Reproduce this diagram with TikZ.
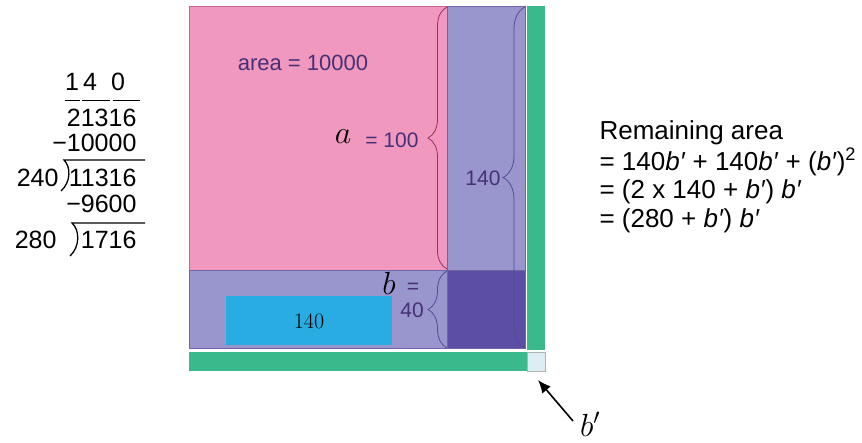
\RequirePackage{fix-cm}
\documentclass[tikz,border=0pt]{standalone}
\usepackage{fontspec}
\newfontfamily\arialf{Liberation Sans}
\usetikzlibrary{arrows.meta, decorations.pathreplacing, positioning}
\definecolor{PinkFill}{RGB}{240,152,190}
\definecolor{PinkEdge}{RGB}{200,100,145}
\definecolor{Lavender}{RGB}{152,150,204}
\definecolor{LavEdge}{RGB}{110,100,170}
\definecolor{DeepViolet}{RGB}{92,78,164}
\definecolor{MintGreen}{RGB}{58,186,140}
\definecolor{SkyBlue}{RGB}{41,172,226}
\definecolor{PaleCyan}{RGB}{220,238,244}
\definecolor{LabelPurple}{RGB}{70,48,120}
\definecolor{BracePink}{RGB}{150,50,95}
\definecolor{BracePurple}{RGB}{85,75,150}

\begin{document}
\begin{tikzpicture}[x=1pt, y=-1pt, font=\arialf\fontsize{22}{24}\selectfont]
	\useasboundingbox (0,0) rectangle (862,442);
	% long division
	\node[font=\arialf\fontsize{25}{28}\selectfont] (q1) at (72,82) {1};
	\node[font=\arialf\fontsize{25}{28}\selectfont] (q2) at (90,82) {4};
	\node[font=\arialf\fontsize{25}{28}\selectfont] (q3) at (118,82) {0};
	\draw[line width=1pt] (65,100) -- (80,100) (82,100) -- (110,100) (113,100) -- (140,100);
	\node[anchor=east, font=\arialf\fontsize{25}{28}\selectfont] (r1) at (140,118) {21316};
	\node[anchor=east, font=\arialf\fontsize{25}{28}\selectfont] (r2) at (140,143) {−10000};
	\node[anchor=east, font=\arialf\fontsize{25}{28}\selectfont] (r3) at (140,178) {11316};
	\node[anchor=east, font=\arialf\fontsize{25}{28}\selectfont] (d1) at (62,178) {240};
	\node[anchor=east, font=\arialf\fontsize{25}{28}\selectfont] (r4) at (140,204) {−9600};
	\node[anchor=east, font=\arialf\fontsize{25}{28}\selectfont] (r5) at (140,240) {1716};
	\node[anchor=east, font=\arialf\fontsize{25}{28}\selectfont] (d2) at (60,240) {280};
	\draw[line width=1.3pt] (145,160) -- (64,160) .. controls (71,167) and (71,182) .. (61,191);
	\draw[line width=1.3pt] (145,223) -- (72,223) .. controls (80,230) and (80,247) .. (70,256);
	% square pieces
	\fill[PinkFill, draw=PinkEdge, line width=0.6pt] (189,6) rectangle (447,270);
	\fill[Lavender, draw=LavEdge, line width=0.6pt] (447,6) rectangle (525,270);
	\fill[Lavender, draw=LavEdge, line width=0.6pt] (189,270) rectangle (447,348);
	\fill[DeepViolet, draw=LavEdge, line width=0.6pt] (447,270) rectangle (525,348);
	\fill[MintGreen] (527,6) rectangle (545,350);
	\fill[MintGreen] (189,352) rectangle (527,371);
	\fill[PaleCyan, draw=gray!60, line width=0.5pt] (527,352) rectangle (545,371);
	\fill[SkyBlue] (226,296) rectangle (392,345);
	% braces
	\draw[BracePink, line width=0.8pt, decorate, decoration={brace, amplitude=19pt}] (447,269) -- (447,7);
	\draw[BracePurple, line width=0.8pt, decorate, decoration={brace, amplitude=22pt}] (525,348) -- (525,7);
	\draw[BracePurple, line width=0.8pt, decorate, decoration={brace, amplitude=19pt}] (447,348) -- (447,271);
	% labels
	\node[text=LabelPurple] (area) at (303,63) {area = 10000};
	\node[font=\fontsize{32}{34}\selectfont] (avar) at (343,137) {$a$};
	\node[text=LabelPurple, anchor=east, font=\arialf\fontsize{21}{24}\selectfont] (aval) at (422,140) {= 100};
	\node[text=LabelPurple, font=\arialf\fontsize{21}{24}\selectfont] (col) at (483,178) {140};
	\node[font=\fontsize{32}{34}\selectfont] (bvar) at (389,283) {$b$};
	\node[text=LabelPurple, font=\arialf\fontsize{21}{24}\selectfont] (beq) at (413,288) {=};
	\node[text=LabelPurple, font=\arialf\fontsize{21}{24}\selectfont] (bval) at (412,310) {40};
	\node[font=\rmfamily\fontsize{22}{24}\selectfont] (strip) at (309,321) {140};
	% remaining area
	\node[anchor=west, font=\arialf\fontsize{26}{28}\selectfont] (rem) at (596,133) {Remaining area};
	\node[anchor=west, font=\arialf\fontsize{26}{28}\selectfont] (l1) at (596,162) {= 140\textit{b′} + 140\textit{b′} + (\textit{b′})\textsuperscript{2}};
	\node[anchor=west, font=\arialf\fontsize{26}{28}\selectfont] (l2) at (596,192) {= (2 x 140 + \textit{b′}) \textit{b′}};
	\node[anchor=west, font=\arialf\fontsize{26}{28}\selectfont] (l3) at (596,221) {= (280 + \textit{b′}) \textit{b′}};
	% pointer
	\node[font=\fontsize{32}{34}\selectfont] (bpr) at (590,424) {$b'$};
	\coordinate (tip) at (538,380);
	\coordinate (tail) at (573,421);
	\draw[line width=1.6pt, -{Latex[length=13pt, width=11pt]}] (tail) -- (tip);
\end{tikzpicture}
\end{document}
